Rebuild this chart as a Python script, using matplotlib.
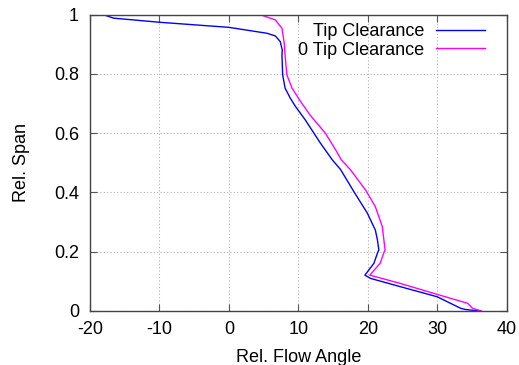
import matplotlib
matplotlib.use("Agg")
import matplotlib.pyplot as plt
from matplotlib.ticker import FixedLocator

plt.rcParams['font.family'] = ['Liberation Sans', 'DejaVu Sans']
plt.rcParams['axes.unicode_minus'] = False

# Tip Clearance (blue)
tc_angle = [-18.1, -16.6, -9.9, 0.0, 5.5, 6.7, 7.4, 7.7, 7.65, 7.75, 8.1, 8.85, 9.6, 11.0,
            13.2, 13.9, 14.9, 16.1, 18.0, 19.95, 21.1, 21.4, 21.6, 21.4, 20.9, 19.6, 20.4,
            24.7, 30.0, 33.4, 34.1, 36.0]
tc_span = [1.0, 0.988, 0.974, 0.957, 0.937, 0.928, 0.909, 0.88, 0.864, 0.797, 0.752, 0.718,
           0.69, 0.645, 0.566, 0.543, 0.51, 0.477, 0.403, 0.33, 0.273, 0.24, 0.206, 0.195,
           0.161, 0.121, 0.11, 0.082, 0.048, 0.009, 0.005, 0.0]

# 0 Tip Clearance (magenta)
ntc_angle = [4.5, 6.7, 7.65, 7.98, 8.1, 8.35, 9.1, 10.3, 11.7, 13.9, 15.4, 16.2, 17.5, 19.7,
             21.1, 22.1, 22.5, 22.3, 21.8, 20.3, 24.7, 30.3, 34.4, 35.1, 36.4]
ntc_span = [1.0, 0.982, 0.954, 0.903, 0.864, 0.797, 0.752, 0.708, 0.661, 0.6, 0.543, 0.51,
            0.477, 0.408, 0.352, 0.285, 0.206, 0.195, 0.161, 0.121, 0.093, 0.054, 0.026,
            0.009, 0.0]

x_ticks = [-20, -10, 0, 10, 20, 30, 40]
y_ticks = [0, 0.2, 0.4, 0.6, 0.8, 1]
y_tick_labels = ["0", "0.2", "0.4", "0.6", "0.8", "1"]

fig = plt.figure(figsize=(5.19, 3.65), dpi=100)
ax = fig.add_axes([0.1734, 0.148, 0.8026, 0.812])

ax.plot(tc_angle, tc_span, color='#0000ff', lw=1.0, label='Tip Clearance')
ax.plot(ntc_angle, ntc_span, color='#ff00ff', lw=1.0, label='0 Tip Clearance')

ax.set_xlim(-20, 40)
ax.set_ylim(0, 1)
ax.xaxis.set_major_locator(FixedLocator(x_ticks))
ax.set_yticks(y_ticks)
ax.set_yticklabels(y_tick_labels)
ax.tick_params(direction='in', top=True, right=True, length=5, labelsize=13, color='#555555')
ax.tick_params(axis='x', pad=7)
ax.tick_params(axis='y', pad=8)
ax.grid(True, color='#b0b0b0', linestyle=(0, (1, 2)), lw=0.8)
for s in ax.spines.values():
    s.set_color('#444444')
    s.set_linewidth(1.0)

ax.set_xlabel('Rel. Flow Angle', fontsize=13, labelpad=8)
ax.set_ylabel('Rel. Span', fontsize=13, labelpad=17)

leg = ax.legend(loc='upper right', bbox_to_anchor=(0.961, 0.99), frameon=False,
                markerfirst=False, fontsize=13, handlelength=2.7, borderaxespad=0.0,
                labelspacing=0.1, handletextpad=0.65, borderpad=0.3)
for t in leg.get_texts():
    t.set_ha('right')
leg._legend_box.align = 'right'

fig.savefig('out.png', dpi=100, facecolor='white')
